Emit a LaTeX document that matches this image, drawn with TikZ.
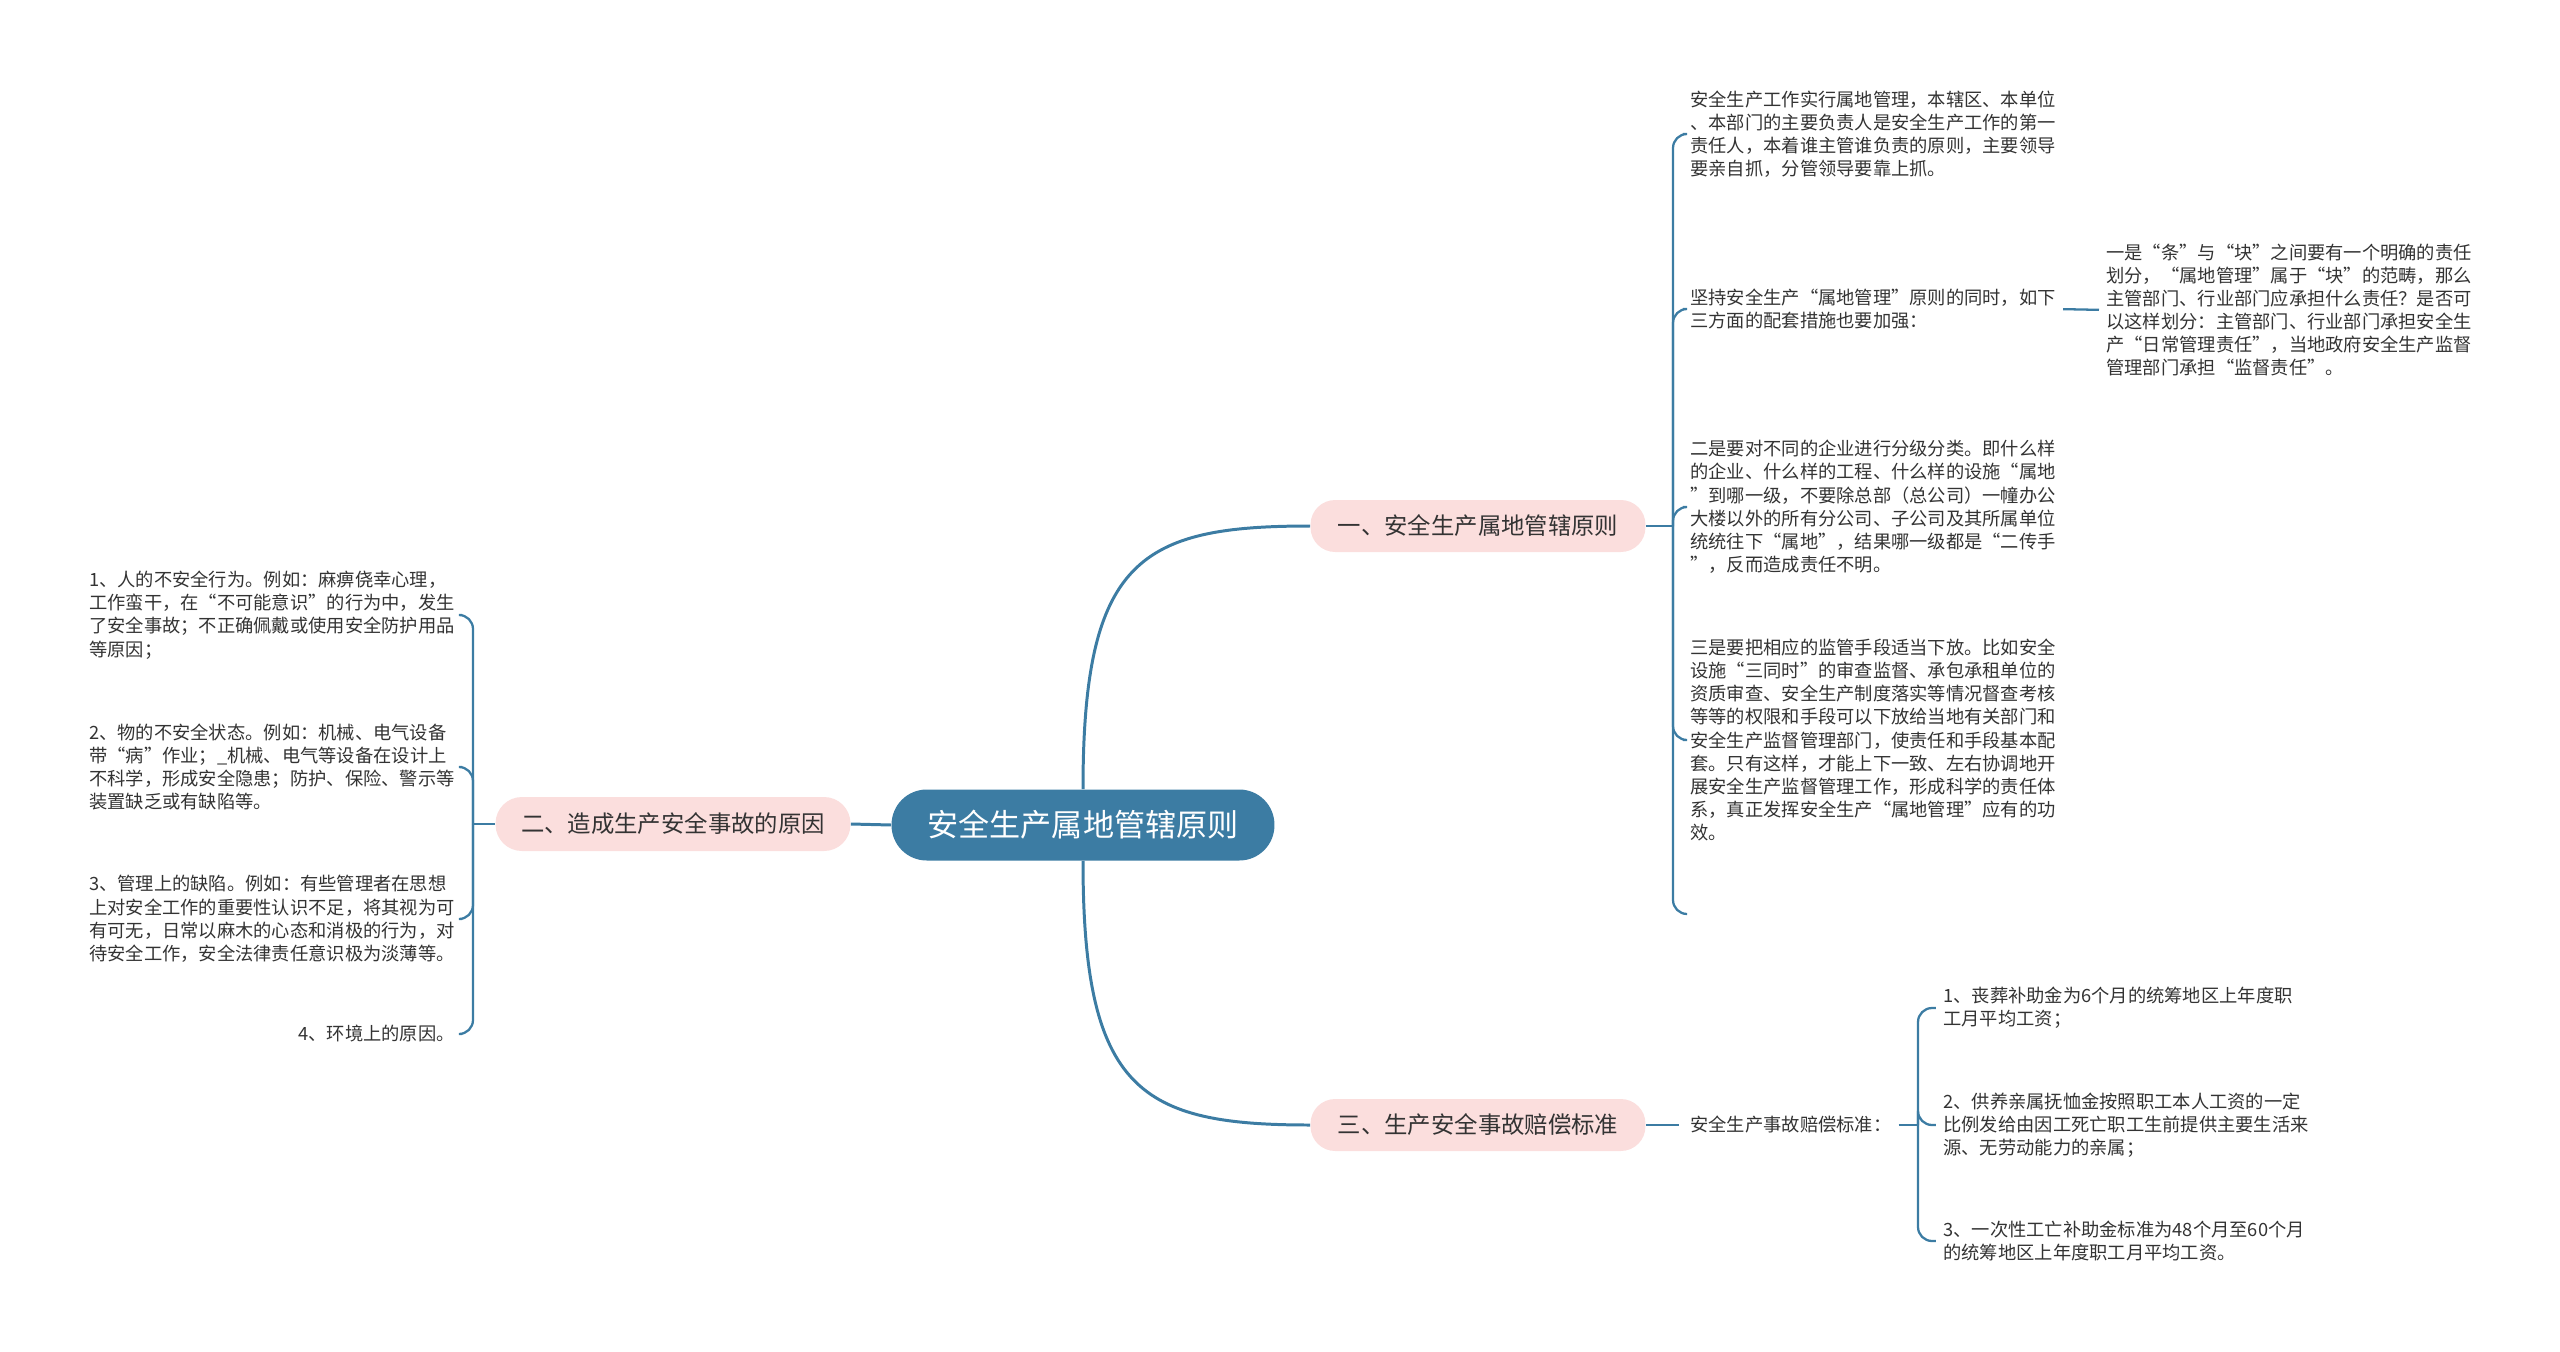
\documentclass[tikz,border=0pt]{standalone}
\usepackage{fontspec}
\setmainfont{Noto Sans CJK SC}
\usepackage{xcolor}
\usepackage{tikz}
\definecolor{mainblue}{RGB}{60,124,163}
\definecolor{pinkfill}{RGB}{251,222,221}
\definecolor{txtgray}{RGB}{51,51,51}

\begin{document}
\begin{tikzpicture}[x=0.02cm, y=-0.02cm,
    rootbox/.style={fill=mainblue, text=white, rounded corners=20pt, minimum width=7.66cm, minimum height=1.42cm, inner sep=0pt, font=\fontsize{17.7}{20}\selectfont},
    topicbox/.style={fill=pinkfill, text=txtgray, rounded corners=14pt, minimum width=6.7cm, minimum height=1.04cm, inner sep=0pt, font=\fontsize{13.3}{16}\selectfont},
    leaf/.style={text=txtgray, align=left, inner sep=0pt, font=\fontsize{10.4}{13.2}\selectfont},
    trunk/.style={draw=mainblue, line width=1.7pt},
    twig/.style={draw=mainblue, line width=1.3pt, rounded corners=8pt}]
            \useasboundingbox (0,0) rectangle (2560,1352);
            % centre and first level
            \node[rootbox] (root) at (1083,825) {安全生产属地管辖原则};
            \node[topicbox] (t1) at (1478,526) {一、安全生产属地管辖原则};
            \node[topicbox, minimum width=7.1cm, minimum height=1.08cm, rounded corners=15pt] (t2) at (673,824) {二、造成生产安全事故的原因};
            \node[topicbox] (t3) at (1478,1125) {三、生产安全事故赔偿标准};
            \draw[trunk] (root.north) .. controls +(0,-230) and +(-170,0) .. (t1.west);
            \draw[trunk] (root.south) .. controls +(0,230) and +(-170,0) .. (t3.west);
            \draw[trunk] (root.west) -- (t2.east);
            % branch one
            \node[leaf, anchor=west] (a1) at (1690,134) {安全生产工作实行属地管理，本辖区、本单位\\、本部门的主要负责人是安全生产工作的第一\\责任人，本着谁主管谁负责的原则，主要领导\\要亲自抓，分管领导要靠上抓。};
            \node[leaf, anchor=west] (a2) at (1690,309) {坚持安全生产“属地管理”原则的同时，如下\\三方面的配套措施也要加强：};
            \node[leaf, anchor=west] (a21) at (2106,310) {一是“条”与“块”之间要有一个明确的责任\\划分，“属地管理”属于“块”的范畴，那么\\主管部门、行业部门应承担什么责任？是否可\\以这样划分：主管部门、行业部门承担安全生\\产“日常管理责任”，当地政府安全生产监督\\管理部门承担“监督责任”。};
            \node[leaf, anchor=west] (a3) at (1690,507) {二是要对不同的企业进行分级分类。即什么样\\的企业、什么样的工程、什么样的设施“属地\\”到哪一级，不要除总部（总公司）一幢办公\\大楼以外的所有分公司、子公司及其所属单位\\统统往下“属地”，结果哪一级都是“二传手\\”，反而造成责任不明。};
            \node[leaf, anchor=west] (a4) at (1690,740) {三是要把相应的监管手段适当下放。比如安全\\设施“三同时”的审查监督、承包承租单位的\\资质审查、安全生产制度落实等情况督查考核\\等等的权限和手段可以下放给当地有关部门和\\安全生产监督管理部门，使责任和手段基本配\\套。只有这样，才能上下一致、左右协调地开\\展安全生产监督管理工作，形成科学的责任体\\系，真正发挥安全生产“属地管理”应有的功\\效。};
            \coordinate (a5) at (1686,914);
            \coordinate (j1) at (1673,526);
            \draw[twig] (t1.east) -- (j1);
            \foreach \k in {a1,a2,a3,a4}
                \draw[twig, shorten >=4pt] (j1) |- (\k.west);
            \draw[twig] (j1) |- (a5);
            \draw[twig, shorten <=4pt, shorten >=4pt] (a2.east) -- (a21.west);
            % branch two
            \node[leaf, anchor=east] (b1) at (455,615) {1、人的不安全行为。例如：麻痹侥幸心理，\\工作蛮干，在“不可能意识”的行为中，发生\\了安全事故；不正确佩戴或使用安全防护用品\\等原因；};
            \node[leaf, anchor=east] (b2) at (455,767) {2、物的不安全状态。例如：机械、电气设备\\带“病”作业；\_机械、电气等设备在设计上\\不科学，形成安全隐患；防护、保险、警示等\\装置缺乏或有缺陷等。};
            \node[leaf, anchor=east] (b3) at (455,919) {3、管理上的缺陷。例如：有些管理者在思想\\上对安全工作的重要性认识不足，将其视为可\\有可无，日常以麻木的心态和消极的行为，对\\待安全工作，安全法律责任意识极为淡薄等。};
            \node[leaf, anchor=east] (b4) at (455,1034) {4、环境上的原因。};
            \coordinate (j2) at (473,824);
            \draw[twig] (t2.west) -- (j2);
            \foreach \k in {b1,b2,b3,b4}
                \draw[twig, shorten >=4pt] (j2) |- (\k.east);
            % branch three
            \node[leaf, anchor=west] (c0) at (1690,1125) {安全生产事故赔偿标准：};
            \node[leaf, anchor=west] (c1) at (1943,1008) {1、丧葬补助金为6个月的统筹地区上年度职\\工月平均工资；};
            \node[leaf, anchor=west] (c2) at (1943,1125) {2、供养亲属抚恤金按照职工本人工资的一定\\比例发给由因工死亡职工生前提供主要生活来\\源、无劳动能力的亲属；};
            \node[leaf, anchor=west] (c3) at (1943,1241) {3、一次性工亡补助金标准为48个月至60个月\\的统筹地区上年度职工月平均工资。};
            \coordinate (j3) at (1918,1125);
            \draw[twig, shorten >=6pt] (t3.east) -- (c0.west);
            \draw[twig, shorten <=4pt] (c0.east) -- (j3);
            \foreach \k in {c1,c2,c3}
                \draw[twig, shorten >=4pt] (j3) |- (\k.west);
\end{tikzpicture}
\end{document}
